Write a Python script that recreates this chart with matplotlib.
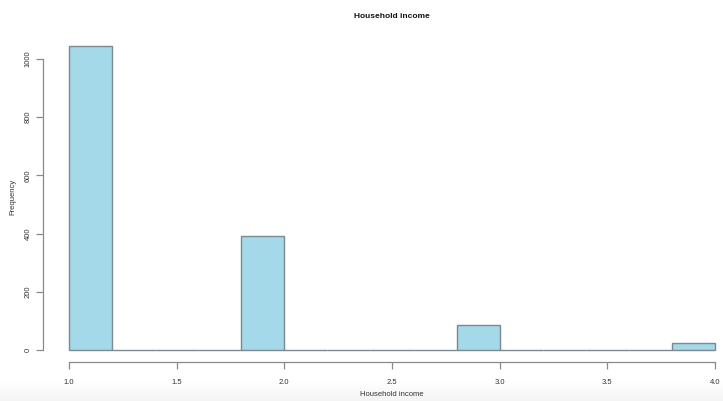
import numpy as np
import matplotlib.pyplot as plt

plt.rcParams['font.family'] = ['Liberation Sans', 'DejaVu Sans']

# histogram of household income (R-style hist output)
bin_edges = [1.0, 1.2, 1.4, 1.6, 1.8, 2.0, 2.2, 2.4, 2.6, 2.8, 3.0, 3.2, 3.4, 3.6, 3.8, 4.0]
counts = [1046, 0, 0, 0, 393, 0, 0, 0, 0, 85, 0, 0, 0, 0, 23]
x_ticks = [1.0, 1.5, 2.0, 2.5, 3.0, 3.5, 4.0]
y_ticks = [0, 200, 400, 600, 800, 1000]

W, H = 723, 401
fig = plt.figure(figsize=(W / 100, H / 100), dpi=100)

# faint shadow band along the bottom edge, darkening downwards
shade = np.linspace(0, 1, 64).reshape(-1, 1)
bg = fig.add_axes([0, 0, 1, 20 / H], zorder=-1)
bg.imshow(shade, aspect='auto', cmap='Greys', vmin=0, vmax=11,
          extent=[0, 1, 0, 1], origin='upper')
bg.axis('off')

# plot region (R pads the data range by 4% on each side)
xlo, xhi = 0.88, 4.12
ylo, yhi = -0.04 * max(counts), 1.04 * max(counts)
left_px, right_px, top_px, bot_px = 43, 741, 33.5, 362
ax = fig.add_axes([left_px / W, 1 - bot_px / H,
                   (right_px - left_px) / W, (bot_px - top_px) / H])
ax.set_xlim(xlo, xhi)
ax.set_ylim(ylo, yhi)
ax.patch.set_alpha(0)

axis_col = '#8a8a8a'
text_col = '#333333'

widths = np.diff(bin_edges)
ax.bar(bin_edges[:-1], counts, width=widths, align='edge',
       color='#a3d9e8', edgecolor='#7a8a90', linewidth=1.0)

for side in ['top', 'right']:
    ax.spines[side].set_visible(False)
ax.spines['left'].set_bounds(y_ticks[0], y_ticks[-1])
ax.spines['bottom'].set_bounds(x_ticks[0], x_ticks[-1])
for side in ['left', 'bottom']:
    ax.spines[side].set_color(axis_col)
    ax.spines[side].set_linewidth(0.9)

ax.set_xticks(x_ticks)
ax.set_xticklabels([f'{v:.1f}' for v in x_ticks])
ax.set_yticks(y_ticks)
ax.set_yticklabels([str(v) for v in y_ticks], rotation=90, va='center')
ax.tick_params(axis='both', colors=axis_col, labelcolor=text_col,
               length=5, width=0.9, labelsize=5.5)
ax.tick_params(axis='x', pad=7)
ax.tick_params(axis='y', pad=3)

fig.text(392 / W, 1 - 394 / H, 'Household income', ha='center', va='center',
         fontsize=5.5, color=text_col)
fig.text(13 / W, 1 - 197 / H, 'Frequency', ha='center', va='center',
         rotation=90, fontsize=5.5, color=text_col)
fig.text(392 / W, 1 - 16 / H, 'Household income', ha='center', va='center',
         fontsize=6, fontweight='bold', color='#111111')

fig.savefig('out.png', dpi=100)
